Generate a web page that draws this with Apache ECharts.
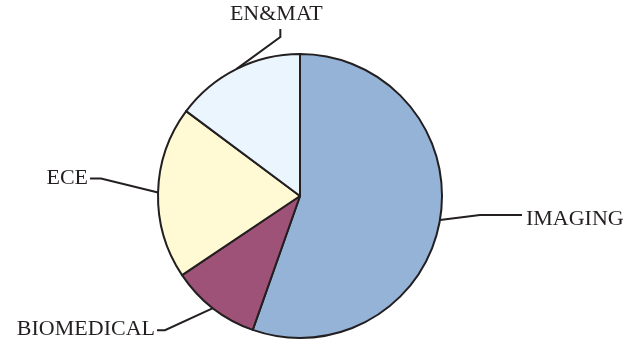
<!DOCTYPE html>
<html>
<head>
<meta charset="utf-8">
<script src="https://cdn.jsdelivr.net/npm/echarts@6/dist/echarts.min.js"></script>
<style>
  html, body { margin: 0; padding: 0; background: #ffffff; }
  #chart { width: 631px; height: 339px; }
</style>
</head>
<body>
<div id="chart"></div>
<script>
// Share of each research area (percent)
const categories = ['IMAGING', 'BIOMEDICAL', 'ECE', 'EN&MAT'];
const shares = [55.4, 10.2, 19.6, 14.8];
const sliceColors = ['#95b3d7', '#9f5277', '#fff9d4', '#eaf5fe'];

// Leader line shape per slice: offsets from the slice edge point
// [bend, end], plus where the text sits relative to the line end.
const leaderShapes = [
  { bend: [40, -5], end: [82, -5], text: [4, 4], align: 'left', vAlign: 'middle' },
  { bend: [-48, 22], end: [-56, 22], text: [-2, -1], align: 'right', vAlign: 'middle' },
  { bend: [-57, -14], end: [-68, -14], text: [-2, 0], align: 'right', vAlign: 'middle' },
  { bend: [44, -32], end: [44, -40], text: [-4, -4], align: 'center', vAlign: 'bottom' }
];

const center = [300, 196];
const radius = 142;

// Edge point at the middle angle of slice i (clockwise from 12 o'clock)
function sliceEdge(i) {
  const total = shares.reduce((a, b) => a + b, 0);
  let before = 0;
  for (let k = 0; k < i; k++) before += shares[k];
  const mid = (before + shares[i] / 2) / total * Math.PI * 2;
  return [center[0] + radius * Math.sin(mid), center[1] - radius * Math.cos(mid)];
}

const chart = echarts.init(document.getElementById('chart'), null, { renderer: 'canvas' });

chart.setOption({
  backgroundColor: '#ffffff',
  animation: false,
  series: [{
    type: 'pie',
    center: center,
    radius: radius,
    startAngle: 90,
    clockwise: true,
    avoidLabelOverlap: false,
    data: categories.map((name, i) => ({
      name: name,
      value: shares[i],
      itemStyle: { color: sliceColors[i] }
    })),
    itemStyle: { borderColor: '#231f20', borderWidth: 2 },
    emphasis: { disabled: true },
    label: {
      show: true,
      position: 'outside',
      formatter: '{b}',
      fontFamily: 'Liberation Serif',
      fontSize: 22,
      color: '#231f20'
    },
    labelLine: {
      show: true,
      length: 10,
      length2: 10,
      smooth: false,
      lineStyle: { color: '#231f20', width: 2 }
    },
    labelLayout: function (params) {
      const i = params.dataIndex;
      const s = leaderShapes[i];
      const e = sliceEdge(i);
      const bend = [e[0] + s.bend[0], e[1] + s.bend[1]];
      const end = [e[0] + s.end[0], e[1] + s.end[1]];
      return {
        x: end[0] + s.text[0],
        y: end[1] + s.text[1],
        align: s.align,
        verticalAlign: s.vAlign,
        labelLinePoints: [e, bend, end]
      };
    }
  }]
});
</script>
</body>
</html>
